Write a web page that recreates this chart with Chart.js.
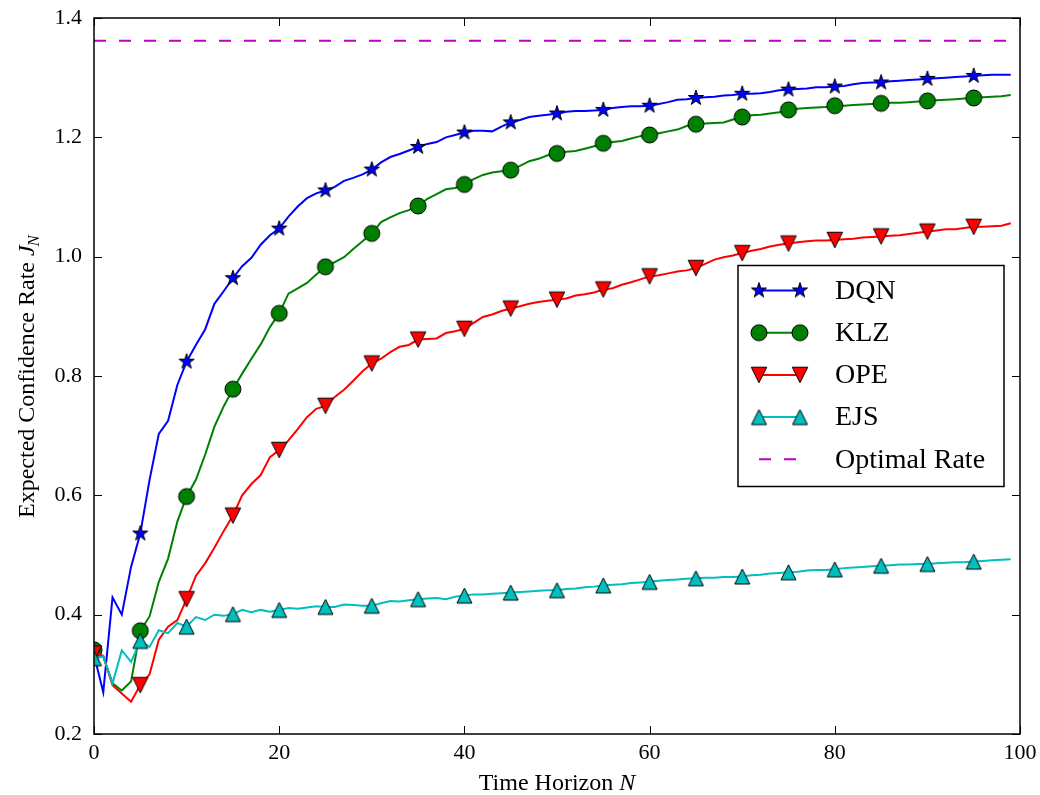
<!DOCTYPE html>
<html lang="en">
<head>
<meta charset="UTF-8">
<title>Expected Confidence Rate vs Time Horizon</title>
<script src="https://cdn.jsdelivr.net/npm/chart.js"></script>
<style>
  body { margin: 0; background: #fff; }
  #wrap { width: 1040px; height: 795px; }
</style>
</head>
<body>
<div id="wrap"><canvas id="rateChart" width="1040" height="795"></canvas></div>
<script>
  // time horizon N = 0..99
  const horizon = Array.from({ length: 100 }, (_, i) => i);

  const dqn = [
    0.333, 0.270, 0.429, 0.400, 0.480, 0.536, 0.626, 0.703, 0.725, 0.785,
    0.824, 0.852, 0.878, 0.921, 0.942, 0.964, 0.984, 0.998, 1.020, 1.036,
    1.047, 1.067, 1.084, 1.098, 1.106, 1.111, 1.117, 1.127, 1.132, 1.138,
    1.146, 1.158, 1.167, 1.172, 1.178, 1.184, 1.189, 1.192, 1.200, 1.204,
    1.208, 1.211, 1.211, 1.210, 1.218, 1.225, 1.229, 1.234, 1.236, 1.238,
    1.240, 1.243, 1.244, 1.244, 1.245, 1.246, 1.249, 1.251, 1.252, 1.252,
    1.253, 1.256, 1.259, 1.263, 1.264, 1.266, 1.267, 1.268, 1.270, 1.271,
    1.273, 1.273, 1.274, 1.276, 1.279, 1.280, 1.281, 1.282, 1.284, 1.284,
    1.285, 1.286, 1.289, 1.291, 1.292, 1.292, 1.294, 1.295, 1.296, 1.297,
    1.298, 1.299, 1.300, 1.301, 1.302, 1.303, 1.304, 1.305, 1.305, 1.305
  ];
  const klz = [
    0.341, 0.330, 0.285, 0.273, 0.288, 0.373, 0.397, 0.455, 0.494, 0.556,
    0.598, 0.626, 0.668, 0.715, 0.749, 0.778, 0.804, 0.829, 0.853, 0.882,
    0.905, 0.938, 0.947, 0.956, 0.970, 0.983, 0.991, 0.999, 1.013, 1.026,
    1.039, 1.058, 1.066, 1.073, 1.078, 1.085, 1.097, 1.105, 1.113, 1.115,
    1.121, 1.130, 1.137, 1.141, 1.143, 1.145, 1.152, 1.160, 1.164, 1.170,
    1.173, 1.176, 1.177, 1.181, 1.185, 1.190, 1.192, 1.194, 1.198, 1.202,
    1.204, 1.207, 1.210, 1.213, 1.219, 1.222, 1.223, 1.224, 1.225, 1.230,
    1.234, 1.237, 1.238, 1.240, 1.242, 1.246, 1.248, 1.249, 1.250, 1.251,
    1.253, 1.253, 1.254, 1.255, 1.256, 1.257, 1.258, 1.258, 1.259, 1.260,
    1.261, 1.262, 1.263, 1.264, 1.265, 1.266, 1.267, 1.268, 1.269, 1.271
  ];
  const ope = [
    0.335, 0.331, 0.282, 0.268, 0.254, 0.282, 0.300, 0.358, 0.380, 0.391,
    0.426, 0.465, 0.486, 0.512, 0.540, 0.566, 0.600, 0.619, 0.634, 0.664,
    0.676, 0.692, 0.711, 0.731, 0.745, 0.750, 0.765, 0.777, 0.792, 0.808,
    0.821, 0.829, 0.840, 0.849, 0.852, 0.861, 0.862, 0.863, 0.872, 0.875,
    0.879, 0.889, 0.899, 0.903, 0.909, 0.913, 0.917, 0.921, 0.924, 0.926,
    0.928, 0.930, 0.935, 0.937, 0.940, 0.945, 0.947, 0.953, 0.957, 0.962,
    0.967, 0.969, 0.972, 0.975, 0.977, 0.981, 0.988, 0.995, 0.999, 1.002,
    1.006, 1.010, 1.013, 1.017, 1.020, 1.022, 1.024, 1.026, 1.027, 1.027,
    1.028, 1.029, 1.030, 1.032, 1.033, 1.034, 1.035, 1.036, 1.038, 1.040,
    1.042, 1.044, 1.046, 1.046, 1.048, 1.050, 1.050, 1.051, 1.052, 1.056
  ];
  const ejs = [
    0.327, 0.330, 0.285, 0.340, 0.321, 0.356, 0.346, 0.374, 0.369, 0.386,
    0.380, 0.396, 0.391, 0.400, 0.398, 0.401, 0.408, 0.404, 0.408, 0.405,
    0.408, 0.411, 0.410, 0.412, 0.414, 0.413, 0.413, 0.417, 0.416, 0.415,
    0.415, 0.419, 0.423, 0.422, 0.424, 0.426, 0.427, 0.428, 0.426, 0.430,
    0.432, 0.434, 0.434, 0.435, 0.436, 0.437, 0.438, 0.439, 0.440, 0.441,
    0.441, 0.443, 0.444, 0.446, 0.447, 0.449, 0.450, 0.451, 0.453, 0.454,
    0.455, 0.457, 0.458, 0.459, 0.460, 0.461, 0.462, 0.462, 0.463, 0.463,
    0.464, 0.466, 0.467, 0.469, 0.470, 0.471, 0.472, 0.474, 0.475, 0.475,
    0.476, 0.478, 0.479, 0.480, 0.481, 0.482, 0.483, 0.484, 0.484, 0.485,
    0.485, 0.486, 0.487, 0.488, 0.488, 0.489, 0.490, 0.491, 0.492, 0.493
  ];
  const optimalRate = 1.362;

  const xTicks = [0, 20, 40, 60, 80, 100];
  const yTicks = [0.2, 0.4, 0.6, 0.8, 1.0, 1.2, 1.4];

  const SERIF = '"Liberation Serif", "DejaVu Serif", serif';

  // matplotlib-like marker sprites
  function makeMarker(shape, fill, size) {
    const pad = 2;
    const c = document.createElement('canvas');
    c.width = c.height = Math.ceil(size + pad * 2);
    const g = c.getContext('2d');
    const m = c.width / 2, r = size / 2;
    g.beginPath();
    if (shape === 'circle') {
      g.arc(m, m, r, 0, Math.PI * 2);
    } else if (shape === 'star') {
      for (let k = 0; k < 10; k++) {
        const rr = k % 2 === 0 ? r : r * 0.382;
        const a = -Math.PI / 2 + k * Math.PI / 5;
        g.lineTo(m + rr * Math.cos(a), m + rr * Math.sin(a));
      }
      g.closePath();
    } else if (shape === 'up') {
      g.moveTo(m, m - r); g.lineTo(m + r, m + r); g.lineTo(m - r, m + r); g.closePath();
    } else if (shape === 'down') {
      g.moveTo(m, m + r); g.lineTo(m + r, m - r); g.lineTo(m - r, m - r); g.closePath();
    }
    g.fillStyle = fill;
    g.fill();
    g.lineWidth = 1;
    g.strokeStyle = '#000';
    g.stroke();
    return c;
  }

  const starImg = makeMarker('star', '#0000ff', 16);
  const circleImg = makeMarker('circle', '#008000', 16);
  const downImg = makeMarker('down', '#ff0000', 15.5);
  const upImg = makeMarker('up', '#00bfbf', 15);

  const everyFifth = ctx => (ctx.dataIndex % 5 === 0 ? 7 : 0);
  const toXY = arr => arr.map((v, i) => ({ x: horizon[i], y: v }));

  function series(label, values, color, img, order) {
    return {
      label, data: toXY(values), borderColor: color, backgroundColor: color,
      borderWidth: 2, tension: 0, pointStyle: img, pointRadius: everyFifth,
      order
    };
  }

  const framePlugin = {
    id: 'frame',
    afterDatasetsDraw(chart) {
      const { ctx, chartArea: a, scales } = chart;
      ctx.save();
      // inward ticks on all four sides
      ctx.strokeStyle = '#000';
      ctx.lineWidth = 1;
      ctx.beginPath();
      xTicks.forEach(v => {
        const x = Math.round(scales.x.getPixelForValue(v)) + 0.5;
        ctx.moveTo(x, a.bottom); ctx.lineTo(x, a.bottom - 8);
        ctx.moveTo(x, a.top); ctx.lineTo(x, a.top + 8);
      });
      yTicks.forEach(v => {
        const y = Math.round(scales.y.getPixelForValue(v)) + 0.5;
        ctx.moveTo(a.left, y); ctx.lineTo(a.left + 8, y);
        ctx.moveTo(a.right, y); ctx.lineTo(a.right - 8, y);
      });
      ctx.stroke();
      ctx.lineWidth = 1.5;
      ctx.strokeRect(a.left, a.top, a.right - a.left, a.bottom - a.top);

      // legend (center right)
      const w = 266, h = 221;
      const bx = a.right - 16 - w, by = (a.top + a.bottom) / 2 - h / 2;
      ctx.fillStyle = '#fff';
      ctx.fillRect(bx, by, w, h);
      ctx.lineWidth = 1.5;
      ctx.strokeRect(bx, by, w, h);
      ctx.font = '28px ' + SERIF;
      ctx.textBaseline = 'middle';
      ctx.textAlign = 'left';
      chart.data.datasets.forEach((ds, i) => {
        const y = by + 25 + i * 42.2;
        const x1 = bx + 21, x2 = bx + 62;
        ctx.strokeStyle = ds.borderColor;
        ctx.lineWidth = ds.borderWidth;
        ctx.setLineDash(ds.borderDash || []);
        ctx.beginPath(); ctx.moveTo(x1, y); ctx.lineTo(x2, y); ctx.stroke();
        ctx.setLineDash([]);
        if (ds.pointStyle instanceof HTMLCanvasElement) {
          const img = ds.pointStyle;
          ctx.drawImage(img, x1 - img.width / 2, y - img.height / 2);
          ctx.drawImage(img, x2 - img.width / 2, y - img.height / 2);
        }
        ctx.fillStyle = '#000';
        ctx.fillText(ds.label, bx + 97, y + 1);
      });

      // axis titles with italic symbols
      ctx.fillStyle = '#000';
      ctx.textBaseline = 'alphabetic';
      const cx = (a.left + a.right) / 2;
      ctx.font = '24px ' + SERIF;
      const t1 = 'Time Horizon ';
      const w1 = ctx.measureText(t1).width;
      ctx.font = 'italic 24px ' + SERIF;
      const w2 = ctx.measureText('N').width;
      let sx = cx - (w1 + w2) / 2;
      ctx.font = '24px ' + SERIF;
      ctx.fillText(t1, sx, 790);
      ctx.font = 'italic 24px ' + SERIF;
      ctx.fillText('N', sx + w1, 790);

      const cy = (a.top + a.bottom) / 2;
      ctx.translate(34, cy);
      ctx.rotate(-Math.PI / 2);
      ctx.font = '24px ' + SERIF;
      const y1 = 'Expected Confidence Rate ';
      const yw1 = ctx.measureText(y1).width;
      ctx.font = 'italic 24px ' + SERIF;
      const yw2 = ctx.measureText('J').width;
      ctx.font = 'italic 17px ' + SERIF;
      const yw3 = ctx.measureText('N').width;
      sx = -(yw1 + yw2 + yw3) / 2;
      ctx.font = '24px ' + SERIF;
      ctx.fillText(y1, sx, 0);
      ctx.font = 'italic 24px ' + SERIF;
      ctx.fillText('J', sx + yw1, 0);
      ctx.font = 'italic 17px ' + SERIF;
      ctx.fillText('N', sx + yw1 + yw2 - 1, 5);
      ctx.restore();
    }
  };

  new Chart(document.getElementById('rateChart'), {
    type: 'line',
    data: {
      datasets: [
        series('DQN', dqn, '#0000ff', starImg, 5),
        series('KLZ', klz, '#008000', circleImg, 4),
        series('OPE', ope, '#ff0000', downImg, 3),
        series('EJS', ejs, '#00bfbf', upImg, 2),
        {
          label: 'Optimal Rate',
          data: horizon.map(n => ({ x: n, y: optimalRate })),
          borderColor: '#bf00bf', borderWidth: 2, borderDash: [12, 13],
          pointRadius: 0, order: 1
        }
      ]
    },
    options: {
      responsive: false,
      animation: false,
      events: [],
      layout: { padding: { top: 18, right: 20, left: 0, bottom: 0 } },
      plugins: { legend: { display: false }, tooltip: { enabled: false } },
      scales: {
        x: {
          type: 'linear', min: 0, max: 100,
          afterFit: s => { s.height = 61; s.paddingLeft = 0; s.paddingRight = 0; },
          afterBuildTicks: s => { s.ticks = xTicks.map(v => ({ value: v })); },
          grid: { display: false, drawTicks: false },
          border: { display: false },
          ticks: { padding: 6, color: '#000', font: { family: SERIF, size: 22 } }
        },
        y: {
          type: 'linear', min: 0.2, max: 1.4,
          afterFit: s => { s.width = 94; s.paddingTop = 0; s.paddingBottom = 0; },
          afterBuildTicks: s => { s.ticks = yTicks.map(v => ({ value: v })); },
          grid: { display: false, drawTicks: false },
          border: { display: false },
          ticks: {
            padding: 12, color: '#000', font: { family: SERIF, size: 22 },
            callback: v => v.toFixed(1)
          }
        }
      }
    },
    plugins: [framePlugin]
  });
</script>
</body>
</html>
